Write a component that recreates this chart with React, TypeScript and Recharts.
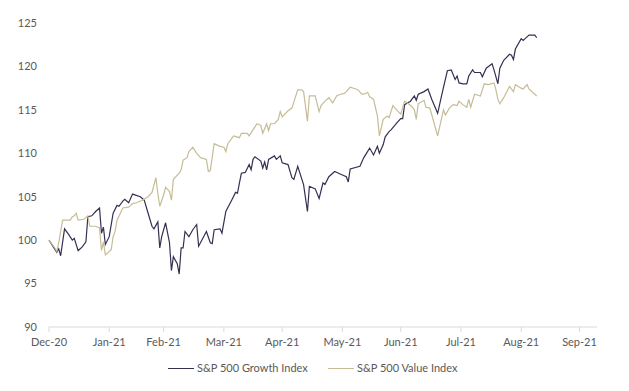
import React from 'react';
import { LineChart, Line, XAxis, YAxis } from 'recharts';

// day offsets counted from 31 Dec 2020
const monthTicks = [0, 31, 59, 90, 120, 151, 181, 212, 243, 273];
const monthLabels = ['Dec-20', 'Jan-21', 'Feb-21', 'Mar-21', 'Apr-21', 'May-21', 'Jun-21', 'Jul-21', 'Aug-21', 'Sep-21'];
const yTicks = [90, 95, 100, 105, 110, 115, 120, 125];

const growthDays = [
  0, 4, 5, 6, 8, 10, 12, 13, 15, 17, 19, 20, 22, 24, 26, 27, 28, 29, 31, 33, 35, 36, 38, 39, 41, 43, 47, 49,
  51, 53, 54, 56, 57, 58, 60, 62, 63, 64, 66, 67, 68, 69, 70, 72, 74, 76, 77, 81, 83, 84, 85, 88, 89, 91,
  94, 96, 97, 98, 99, 101, 103, 104, 105, 106, 109, 110, 111, 112, 113, 116, 117, 119, 120, 123, 125, 126,
  128, 131, 133, 134, 137, 139, 141, 142, 144, 147, 149, 151, 153, 154, 155, 160, 162, 165, 167, 169, 170,
  172, 173, 175, 176, 179, 181, 182, 183, 186, 188, 189, 190, 193, 195, 197, 200, 202, 203, 205, 207, 209,
  210, 211, 213, 215, 216, 218, 219, 222, 223, 225, 228, 229, 231, 232, 234, 237, 238, 239, 240, 243, 244,
  245, 247, 250, 251,
];
const growthValues = [
  100, 98.6, 99, 98.2, 101.3, 100.7, 100, 100.2, 98.8, 99.2, 99.8, 102.7, 102.8, 103.3, 103.7, 100.8, 101.5,
  99.5, 100.4, 103.1, 104, 103.9, 104.5, 104.7, 104.3, 105.3, 105, 104.6,
  103.1, 101.6, 101.3, 102.1, 99.1, 100.4, 102, 99.7, 96.5, 98.1, 97.3, 96.1, 99.1, 99.1, 101, 100.4, 101.2,
  101.8, 99.3, 101, 99.7, 99.6, 101.2, 101.3, 100.8, 103.3,
  104.6, 105.5, 105.4, 106.6, 107.7, 107.8, 108.7, 108.1, 109.3, 109.6, 109.1, 108.3, 109, 108.1, 109.3,
  109.7, 109.3, 109.7, 108.9, 108.7, 107.2, 107,
  108.5, 106.4, 103.3, 106.2, 105.9, 104.8, 106.6, 106.4, 107.3, 107.9, 107.7, 107.5, 107.3, 106.7, 108.2,
  108.5, 109.5, 110.6, 109.8, 110.8, 110,
  111, 111.9, 112.5, 112.7, 113.5, 114, 114, 115.6, 116, 116.6, 116.1, 116.8, 117.1, 117.4, 116.2, 114.6,
  116.6, 117.6, 119.5, 119.6, 118.5,
  118.9, 118.1, 118, 118, 118.9, 119.6, 119.3, 119.3, 118.8, 119.8, 120.3, 119.6, 118, 119.8, 120.7, 121.4,
  121.3, 120.8, 122, 123.2, 123,
  123.2, 123.6, 123.6, 123.3,
];

const valueDays = [
  0, 3, 4, 5, 7, 8, 11, 12, 13, 14, 15, 18, 20, 21, 24, 26, 27, 28, 29, 32, 33, 34, 35, 38, 41, 43, 45, 48,
  51, 53, 55, 56, 57, 59, 60, 62, 63, 64, 67, 68, 69, 71, 72, 74, 76, 78, 81, 82, 83, 85, 88, 90, 91, 92,
  95, 98, 99, 102, 103, 107, 109, 110, 112, 113, 114, 116, 118, 119, 120, 123, 125, 128, 130, 131, 133,
  134, 137, 139, 140, 142, 144, 146, 148, 150, 152, 153, 155, 158, 159, 161, 162, 164, 165, 166, 167, 169,
  170, 172, 174, 175, 177, 178, 181, 183, 185, 187, 188, 189, 190, 193, 194, 196, 200, 203, 204, 206, 208,
  210, 211, 213, 215, 216, 217, 219, 222, 224, 226, 229, 230, 231, 232, 234, 237, 239, 240, 243, 244, 246,
  247, 251,
];
const valueValues = [
  100, 99.1, 98.7, 99.7, 102.3, 102.3, 102.3, 102.7, 102.8, 103.1, 102.3, 102.4, 102.8, 101.6, 101.6, 101.4,
  98.8, 99.8, 98.3, 98.9, 100.4, 101, 102.3, 103.7, 103.8, 104.2, 104.3, 104.6,
  105, 105.5, 107.2, 105.4, 103.9, 105.2, 106.1, 105.6, 104.6, 107, 107.7, 108.1, 109.2, 109.5, 110.2,
  110.7, 110, 109.5, 109.3, 107.9, 108, 111.1, 110.8, 110.7, 110.2, 111.1,
  112, 111.8, 112.3, 112.3, 112, 113.4, 113.2, 112.3, 113.4, 112.6, 113.4, 113.4, 113.9, 114.8, 114.2,
  114.9, 115.2, 117.3, 117.3, 117.1, 113.7,
  116.6, 116.6, 114.8, 115.5, 116, 116.4, 115.8, 116.6, 116.8, 116.9, 117.1, 117.6, 117.4, 117.3, 116.8,
  116.8, 117, 116.5, 116.4, 116.2, 114.3,
  112, 113.9, 114.3, 114.1, 115.5, 115.2, 114.5, 116, 115.7, 115.3, 115, 113.9, 115.7, 116.1, 115.3, 115.2,
  112, 115, 114.4, 115.2, 115.6,
  115.5, 116, 115.6, 115.3, 116.2, 115.3, 116.8, 116.6, 118, 117.9, 118.1, 117.3, 116.2, 115.7, 116.4,
  117.7, 117.1, 117.9, 117.5, 117.4, 117.9,
  117.4, 116.6,
];

const growthData = growthDays.map((d, i) => ({ day: d, v: growthValues[i] }));
const valueData = valueDays.map((d, i) => ({ day: d, v: valueValues[i] }));

const GROWTH = '#353050';
const VALUE = '#c6bc96';
const FONT = 'Lato, "Open Sans", sans-serif';
const tickStyle = { fill: '#595959', fontSize: 11, fontFamily: FONT };

const LegendItem = ({ left, color, label }: { left: number; color: string; label: string }) => (
  <div style={{ position: 'absolute', left, top: 353, display: 'flex', alignItems: 'center' }}>
    <span style={{ display: 'inline-block', width: 26, height: 0, borderTop: `1.2px solid ${color}` }} />
    <span style={{ marginLeft: 3, color: '#595959', fontSize: 11, fontFamily: FONT, lineHeight: '14px' }}>{label}</span>
  </div>
);

export default function App() {
  return (
    <div style={{ position: 'relative', width: 613, height: 375 }}>
      <LineChart width={613} height={375} margin={{ top: 15, right: 24, left: 0, bottom: 26 }}>
        <XAxis
          type="number"
          dataKey="day"
          domain={[0, 282]}
          ticks={monthTicks}
          tickFormatter={(d: number) => monthLabels[monthTicks.indexOf(d)]}
          stroke="#d9d9d9"
          tickSize={5}
          tickMargin={6}
          height={30}
          tick={tickStyle}
          allowDuplicatedCategory={false}
        />
        <YAxis
          type="number"
          domain={[90, 125]}
          ticks={yTicks}
          axisLine={false}
          tickLine={false}
          tickSize={0}
          tickMargin={12}
          width={41}
          tick={tickStyle}
        />
        <Line data={growthData} dataKey="v" stroke={GROWTH} strokeWidth={1.2} dot={false} isAnimationActive={false} />
        <Line data={valueData} dataKey="v" stroke={VALUE} strokeWidth={1.2} dot={false} isAnimationActive={false} />
      </LineChart>
      <LegendItem left={160} color={GROWTH} label="S&P 500 Growth Index" />
      <LegendItem left={320} color={VALUE} label="S&P 500 Value Index" />
    </div>
  );
}
